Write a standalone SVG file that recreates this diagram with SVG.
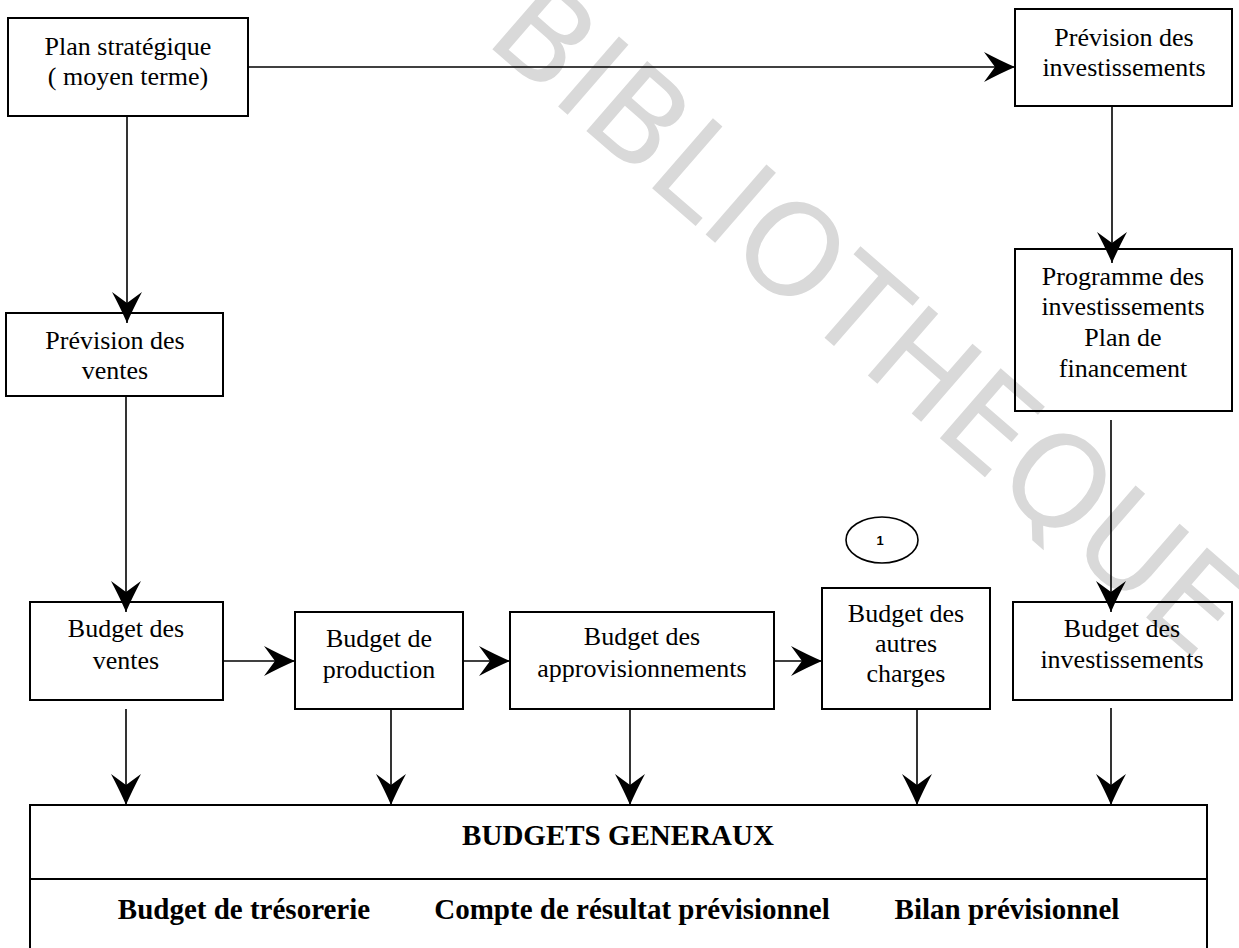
<svg xmlns="http://www.w3.org/2000/svg" width="1239" height="948" viewBox="0 0 1239 948">
<style>
.box{fill:none;stroke:#000;stroke-width:2}
.t{font-family:"Liberation Serif","Times New Roman",serif;font-size:26px;fill:#000;text-anchor:middle}
.b{font-family:"Liberation Serif","Times New Roman",serif;font-size:29px;font-weight:bold;fill:#000;text-anchor:middle}
.c{fill:none;stroke:#000;stroke-width:1.6}
.arr{marker-end:url(#ah)}
.wm{font-family:"DejaVu Sans",sans-serif;font-size:127px;fill:#d9d9d9}
</style>
<defs>
<marker id="ah" markerUnits="userSpaceOnUse" markerWidth="31" markerHeight="30" viewBox="0 0 31 30" refX="31" refY="15" orient="auto">
<path d="M0,0 Q17,9 31,15 Q17,21 0,30 L11,15 Z" fill="#000"/>
</marker>
</defs>
<rect x="0" y="0" width="1239" height="948" fill="#fff"/>
<text class="wm" transform="translate(483,41) rotate(41)">BIBLIOTHEQUE</text>

<g id="connectors">
<path class="c arr" d="M248,67 H1015"/>
<path class="c arr" d="M127,116 V323"/>
<path class="c arr" d="M126,396 V612"/>
<path class="c arr" d="M1112,106 V263"/>
<path class="c arr" d="M1111,420 V612"/>
<path class="c arr" d="M223,661 H295"/>
<path class="c arr" d="M463,661 H510"/>
<path class="c arr" d="M774,661 H822"/>
<path class="c arr" d="M126,709 V805"/>
<path class="c arr" d="M391,709 V805"/>
<path class="c arr" d="M630,709 V805"/>
<path class="c arr" d="M917,709 V805"/>
<path class="c arr" d="M1111,708 V805"/>
</g>

<g id="plan-strategique">
<rect class="box" x="8" y="18" width="240" height="98"/>
<text class="t" x="128" y="55">Plan stratégique</text>
<text class="t" x="128" y="85">( moyen terme)</text>
</g>
<g id="prevision-investissements">
<rect class="box" x="1015" y="9" width="217" height="97"/>
<text class="t" x="1124" y="46">Prévision des</text>
<text class="t" x="1124" y="76">investissements</text>
</g>
<g id="programme-investissements">
<rect class="box" x="1015" y="249" width="217" height="162"/>
<text class="t" x="1123" y="285">Programme des</text>
<text class="t" x="1123" y="315">investissements</text>
<text class="t" x="1123" y="346">Plan de</text>
<text class="t" x="1123" y="377">financement</text>
</g>
<g id="prevision-ventes">
<rect class="box" x="6" y="313" width="217" height="83"/>
<text class="t" x="115" y="349">Prévision des</text>
<text class="t" x="115" y="379">ventes</text>
</g>
<g id="budget-ventes">
<rect class="box" x="30" y="602" width="193" height="98"/>
<text class="t" x="126" y="637">Budget des</text>
<text class="t" x="126" y="669">ventes</text>
</g>
<g id="budget-production">
<rect class="box" x="295" y="612" width="168" height="97"/>
<text class="t" x="379" y="647">Budget de</text>
<text class="t" x="379" y="678">production</text>
</g>
<g id="budget-approvisionnements">
<rect class="box" x="510" y="612" width="264" height="97"/>
<text class="t" x="642" y="645">Budget des</text>
<text class="t" x="642" y="677">approvisionnements</text>
</g>
<g id="budget-autres-charges">
<rect class="box" x="822" y="588" width="168" height="121"/>
<text class="t" x="906" y="622">Budget des</text>
<text class="t" x="906" y="652">autres</text>
<text class="t" x="906" y="682">charges</text>
</g>
<g id="marker-1">
<ellipse cx="882" cy="540" rx="36" ry="23" fill="none" stroke="#000" stroke-width="1.6"/>
<text x="880" y="545" font-family="Liberation Sans, Arial, sans-serif" font-weight="bold" font-size="13" text-anchor="middle">1</text>
</g>
<g id="budget-investissements">
<rect class="box" x="1013" y="602" width="219" height="98"/>
<text class="t" x="1122" y="637">Budget des</text>
<text class="t" x="1122" y="668">investissements</text>
</g>
<g id="budgets-generaux">
<path class="box" d="M30,948 V805 H1207 V948"/>
<path class="box" d="M30,879 H1207"/>
<text class="b" x="618" y="845">BUDGETS GENERAUX</text>
<text class="b" x="244" y="919">Budget de trésorerie</text>
<text class="b" x="632" y="919">Compte de résultat prévisionnel</text>
<text class="b" x="1007" y="919">Bilan prévisionnel</text>
</g>
</svg>
